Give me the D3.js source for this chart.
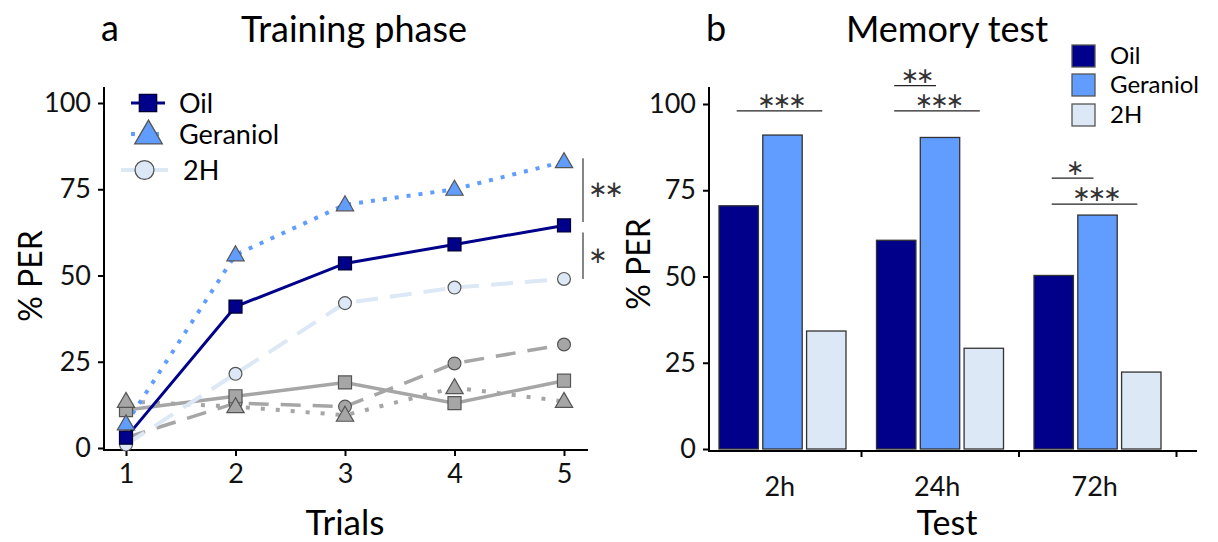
<!DOCTYPE html>
<html>
<head>
<meta charset="utf-8">
<script src="https://cdn.jsdelivr.net/npm/d3@7"></script>
<style>
  body { margin: 0; background: #fff; }
  svg { font-family: Lato, "Open Sans", sans-serif; }
</style>
</head>
<body>
<div id="chart"></div>
<script>
// Chart data.
const trials = [1, 2, 3, 4, 5];
const oilTrain = [3, 41, 53.5, 59, 64.5];
const geraniolTrain = [7, 56, 70.5, 75, 83];
const h2Train = [1, 21.5, 42, 46.5, 49];
// control groups (grey)
const oilCtrl = [11, 15, 19, 13, 19.5];
const geraniolCtrl = [13.5, 12, 9.5, 17.5, 13.5];
const h2Ctrl = [3, 13, 12, 24.5, 30];

const tests = ["2h", "24h", "72h"];
const groups = ["Oil", "Geraniol", "2H"];
const oilMem = [70.5, 60.5, 50.3];
const geraniolMem = [91, 90.3, 67.8];
const h2Mem = [34.2, 29.2, 22.3];

const yTicks = [0, 25, 50, 75, 100];

// significance marks
const trainSig = [
  { top: 84, bottom: 65.5, label: "**" },
  { top: 62.5, bottom: 49, label: "*" }
];
const memSig = [
  { test: "2h", from: "Oil", to: "2H", level: 98, label: "***" },
  { test: "24h", from: "Oil", to: "Geraniol", level: 105.3, label: "**" },
  { test: "24h", from: "Oil", to: "2H", level: 98, label: "***" },
  { test: "72h", from: "Oil", to: "Geraniol", level: 78.5, label: "*" },
  { test: "72h", from: "Oil", to: "2H", level: 71, label: "***" }
];

const W = 1218, H = 542;
const navy = "#00008b", blue = "#609dff", pale = "#dce8f5", grey = "#a6a6a6", edge = "#555";

const svg = d3.select("#chart").append("svg")
  .attr("width", W)
  .attr("height", H);

// centred asterisks (U+2217) so the boxes stay small
function stars(label) {
  return label.replace(/\*/g, "\u2217");
}

/* ---------- panel a: training phase ---------- */
const xT = d3.scalePoint().domain(trials).range([126, 564]);
const yT = d3.scaleLinear().domain([0, 100]).range([448, 103]);

const pa = svg.append("g");

// axes
pa.append("line").attr("x1", 104).attr("x2", 104).attr("y1", 87).attr("y2", 451)
  .attr("stroke", "#000").attr("stroke-width", 2);
pa.append("line").attr("x1", 103).attr("x2", 588).attr("y1", 450).attr("y2", 450)
  .attr("stroke", "#000").attr("stroke-width", 2);

const yAxisA = pa.append("g")
  .attr("transform", "translate(104,0)")
  .call(d3.axisLeft(yT).tickValues(yTicks).tickSize(6).tickPadding(7));
yAxisA.select(".domain").remove();

const xAxisA = pa.append("g")
  .attr("transform", "translate(0,450)")
  .call(d3.axisBottom(xT).tickSize(6).tickPadding(8));
xAxisA.select(".domain").remove();

pa.selectAll(".tick line").attr("stroke-width", 2);
pa.selectAll(".tick text").attr("font-size", 27).attr("fill", "#111")
  .attr("font-family", "Lato, sans-serif");

pa.append("text").attr("x", 345).attr("y", 535).attr("text-anchor", "middle")
  .attr("font-size", 35).text("Trials");
pa.append("text").attr("transform", "translate(42,276) rotate(-90)")
  .attr("text-anchor", "middle").attr("font-size", 32).text("% PER");
pa.append("text").attr("x", 101).attr("y", 41).attr("font-size", 36).text("a");
pa.append("text").attr("x", 354).attr("y", 42).attr("text-anchor", "middle")
  .attr("font-size", 36).text("Training phase");

const series = [
  { vals: h2Ctrl, color: grey, dash: "20,12", width: 3.5, shape: "circle", fill: grey },
  { vals: oilCtrl, color: grey, dash: null, width: 3.5, shape: "square", fill: grey },
  { vals: geraniolCtrl, color: grey, dash: "4,11", width: 4, shape: "triangle", fill: grey },
  { vals: h2Train, color: pale, dash: "22,12", width: 4, shape: "circle", fill: pale },
  { vals: geraniolTrain, color: blue, dash: "4,8", width: 4, shape: "triangle", fill: blue },
  { vals: oilTrain, color: navy, dash: null, width: 3, shape: "square", fill: navy }
];

const line = d3.line()
  .x((d, i) => xT(trials[i]))
  .y(d => yT(d));

function symbolPath(shape, size) {
  const t = shape == "circle" ? d3.symbolCircle : shape == "square" ? d3.symbolSquare : d3.symbolTriangle;
  return d3.symbol().type(t).size(size)();
}
const markSize = { circle: 130, square: 170, triangle: 130 };

series.forEach(s => {
  pa.append("path")
    .datum(s.vals)
    .attr("d", line)
    .attr("fill", "none")
    .attr("stroke", s.color)
    .attr("stroke-width", s.width)
    .attr("stroke-dasharray", s.dash);
});
series.forEach(s => {
  pa.selectAll(null)
    .data(s.vals)
    .enter()
    .append("path")
    .attr("transform", (d, i) => "translate(" + xT(trials[i]) + "," + (yT(d) + (s.shape == "triangle" ? 1 : 0)) + ")")
    .attr("d", symbolPath(s.shape, markSize[s.shape]))
    .attr("fill", s.fill)
    .attr("stroke", s.shape == "square" && s.fill == navy ? "#000033" : edge)
    .attr("stroke-width", 1.2);
});

// significance brackets on the right of the last trial
trainSig.forEach(s => {
  const mid = (yT(s.top) + yT(s.bottom)) / 2;
  pa.append("line")
    .attr("x1", xT(5) + 19).attr("x2", xT(5) + 19)
    .attr("y1", yT(s.top)).attr("y2", yT(s.bottom))
    .attr("stroke", "#444").attr("stroke-width", 1.3);
  pa.append("text")
    .attr("x", xT(5) + 24).attr("y", mid + 7)
    .attr("font-family", "DejaVu Sans").attr("font-size", 23)
    .attr("letter-spacing", -3).attr("fill", "#333").text(stars(s.label));
});

// legend (panel a)
const legA = [
  { name: "Oil", color: navy, dash: null, width: 3, shape: "square", size: 300, x1: 131, x2: 165, y: 103 },
  { name: "Geraniol", color: blue, dash: "4,8", width: 4, shape: "triangle", size: 330, x1: 131, x2: 166, y: 134 },
  { name: "2H", color: pale, dash: null, width: 4, shape: "circle", size: 280, x1: 121, x2: 168, y: 170 }
];
legA.forEach(l => {
  pa.append("line").attr("x1", l.x1).attr("x2", l.x2).attr("y1", l.y).attr("y2", l.y)
    .attr("stroke", l.color).attr("stroke-width", l.width).attr("stroke-dasharray", l.dash);
  pa.append("path")
    .attr("transform", "translate(" + ((l.x1 + l.x2) / 2) + "," + (l.y + (l.shape == "triangle" ? 2 : 0)) + ")")
    .attr("d", symbolPath(l.shape, l.size))
    .attr("fill", l.color)
    .attr("stroke", l.shape == "square" ? "#000033" : edge)
    .attr("stroke-width", 1.3);
  pa.append("text").attr("x", l.shape == "circle" ? 183 : 179).attr("y", l.y + 10)
    .attr("font-size", 27).text(l.name);
});

/* ---------- panel b: memory test ---------- */
const xM = d3.scaleBand().domain(tests).range([704, 1176.5]);
const xG = d3.scaleBand().domain(groups).range([15, 142]).paddingInner(0.1);
const yM = d3.scaleLinear().domain([0, 100]).range([449, 104]);
const groupColors = { "Oil": navy, "Geraniol": blue, "2H": pale };

const pb = svg.append("g");

const memRows = tests.map((t, i) => ({
  test: t,
  vals: [
    { g: "Oil", v: oilMem[i] },
    { g: "Geraniol", v: geraniolMem[i] },
    { g: "2H", v: h2Mem[i] }
  ]
}));

pb.selectAll("g.grp")
  .data(memRows)
  .enter()
  .append("g")
  .attr("class", "grp")
  .attr("transform", d => "translate(" + xM(d.test) + ",0)")
  .selectAll("rect")
  .data(d => d.vals)
  .enter()
  .append("rect")
  .attr("x", d => xG(d.g))
  .attr("width", xG.bandwidth())
  .attr("y", d => yM(d.v))
  .attr("height", d => yM(0) - yM(d.v))
  .attr("fill", d => groupColors[d.g])
  .attr("stroke", "#333")
  .attr("stroke-width", 1.3);

pb.append("line").attr("x1", 709).attr("x2", 709).attr("y1", 87).attr("y2", 452)
  .attr("stroke", "#000").attr("stroke-width", 2);
pb.append("line").attr("x1", 708).attr("x2", 1197).attr("y1", 451).attr("y2", 451)
  .attr("stroke", "#000").attr("stroke-width", 2);

const yAxisB = pb.append("g")
  .attr("transform", "translate(709,0)")
  .call(d3.axisLeft(yM).tickValues(yTicks).tickSize(6).tickPadding(7));
yAxisB.select(".domain").remove();

// ticks sit between the groups, labels at group centres
pb.selectAll(null)
  .data(tests)
  .enter()
  .append("line")
  .attr("x1", d => xM(d) + xM.bandwidth())
  .attr("x2", d => xM(d) + xM.bandwidth())
  .attr("y1", 451).attr("y2", 457)
  .attr("stroke", "#000").attr("stroke-width", 2);
pb.selectAll(null)
  .data(tests)
  .enter()
  .append("text")
  .attr("x", d => xM(d) + xM.bandwidth() / 2 - 3)
  .attr("y", 496)
  .attr("text-anchor", "middle")
  .attr("font-size", 27)
  .attr("fill", "#111")
  .text(d => d);

pb.selectAll(".tick line").attr("stroke-width", 2);
pb.selectAll(".tick text").attr("font-size", 27).attr("fill", "#111")
  .attr("font-family", "Lato, sans-serif");

pb.append("text").attr("x", 947).attr("y", 535).attr("text-anchor", "middle")
  .attr("font-size", 34).text("Test");
pb.append("text").attr("transform", "translate(650,264) rotate(-90)")
  .attr("text-anchor", "middle").attr("font-size", 32).text("% PER");
pb.append("text").attr("x", 706).attr("y", 41).attr("font-size", 36).text("b");
pb.append("text").attr("x", 947).attr("y", 42).attr("text-anchor", "middle")
  .attr("font-size", 36).text("Memory test");

memSig.forEach(s => {
  const xa = xM(s.test) + xG(s.from) + xG.bandwidth() / 2 - 2;
  const xb = xM(s.test) + xG(s.to) + xG.bandwidth() / 2 - 4;
  const ly = yM(s.level);
  pb.append("line").attr("x1", xa).attr("x2", xb).attr("y1", ly).attr("y2", ly)
    .attr("stroke", "#222").attr("stroke-width", 1.3);
  pb.append("text").attr("x", (xa + xb) / 2 + 1).attr("y", ly - 3)
    .attr("text-anchor", "middle")
    .attr("font-family", "DejaVu Sans").attr("font-size", 22)
    .attr("letter-spacing", -3).attr("fill", "#333")
    .text(stars(s.label));
});

// legend (panel b)
const legRowsB = [45, 74, 104];
groups.forEach((g, i) => {
  pb.append("rect").attr("x", 1072).attr("y", legRowsB[i]).attr("width", 23).attr("height", 22)
    .attr("fill", groupColors[g]).attr("stroke", "#555").attr("stroke-width", 1.3);
  pb.append("text").attr("x", 1110).attr("y", legRowsB[i] + 19)
    .attr("font-size", 24).text(g);
});
</script>
</body>
</html>
